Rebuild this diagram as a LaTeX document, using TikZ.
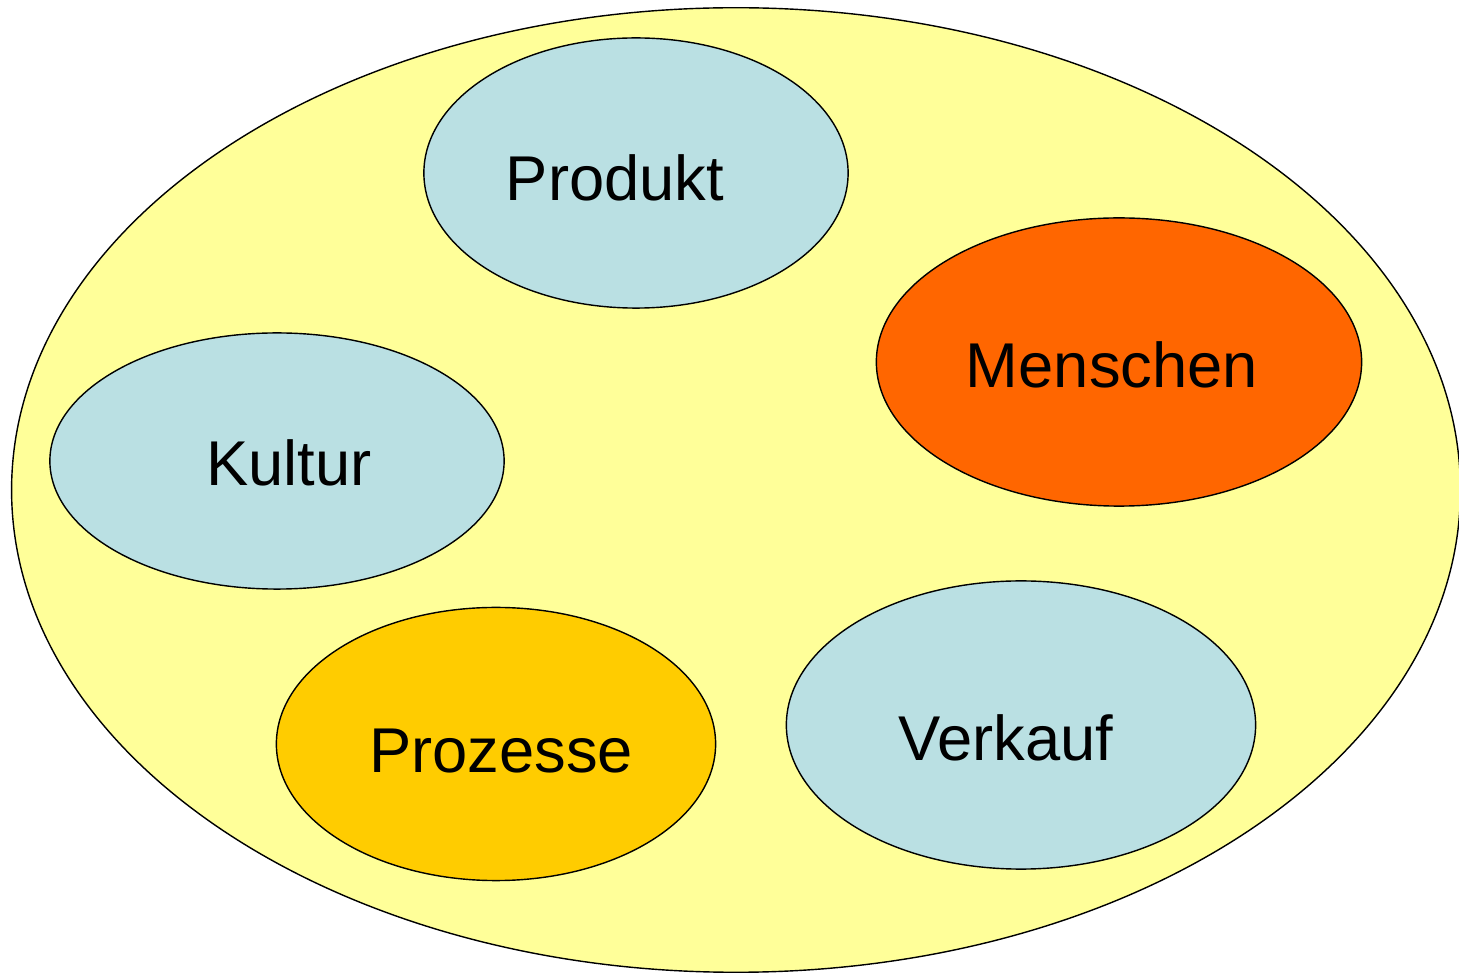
\documentclass[tikz,border=0pt]{standalone}
\usepackage{fontspec}
\setmainfont{Liberation Sans}
\usepackage{tikz}
\usetikzlibrary{shapes.geometric}

\definecolor{paleyellow}{HTML}{FFFF99}
\definecolor{paleblue}{HTML}{BAE0E3}
\definecolor{hotorange}{HTML}{FF6600}
\definecolor{gold}{HTML}{FFCC00}

\tikzset{
  blob/.style={ellipse,draw=black,inner sep=0pt},
  word/.style={font=\fontsize{18}{22}\selectfont}
}

\begin{document}
\begin{tikzpicture}[x=0.01cm,y=-0.01cm]
    \useasboundingbox (0,0) rectangle (1459,973);
    \clip (0,0) rectangle (1459,973);
    \node[blob,fill=paleyellow,minimum width=14.48cm,minimum height=9.64cm] (team) at (736,490) {};
    \node[blob,fill=paleblue,minimum width=4.24cm,minimum height=2.70cm] (produkt) at (636,173) {};
    \node[blob,fill=hotorange,minimum width=4.85cm,minimum height=2.88cm] (menschen) at (1119,362) {};
    \node[blob,fill=paleblue,minimum width=4.54cm,minimum height=2.56cm] (kultur) at (277,461) {};
    \node[blob,fill=gold,minimum width=4.39cm,minimum height=2.73cm] (prozesse) at (496,744) {};
    \node[blob,fill=paleblue,minimum width=4.69cm,minimum height=2.88cm] (verkauf) at (1021,725) {};
    \node[word] (produkt text) at (615,178) {Produkt};
    \node[word] (menschen text) at (1112,365) {Menschen};
    \node[word] (kultur text) at (289,463) {Kultur};
    \node[word] (prozesse text) at (501,751) {Prozesse};
    \node[word] (verkauf text) at (1006,738) {Verkauf};
  \end{tikzpicture}
\end{document}
